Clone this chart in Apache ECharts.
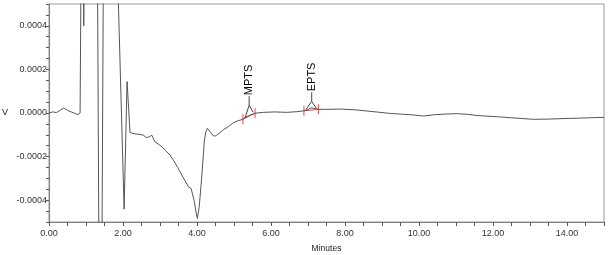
<!DOCTYPE html>
<html>
<head>
<meta charset="utf-8">
<script src="https://cdn.jsdelivr.net/npm/echarts@6/dist/echarts.min.js"></script>
<style>
  html, body { margin: 0; padding: 0; background: #fff; }
  #chart { width: 609px; height: 255px; }
</style>
</head>
<body>
<div id="chart"></div>
<script>
// 色谱数据（时间：分钟，信号：V）
var times = [
  0.00, 0.10, 0.20, 0.30, 0.40, 0.50, 0.60, 0.70, 0.78, 0.84,
  0.88, 0.93, 0.94, 0.95, 1.00, 1.30, 1.36, 1.42, 1.48, 1.86,
  2.03, 2.11, 2.19, 2.30, 2.46, 2.55, 2.59, 2.64, 2.72, 2.78,
  2.86, 2.95, 3.05, 3.15, 3.27, 3.36, 3.48, 3.59, 3.68, 3.77,
  3.84, 3.92, 3.97, 4.01, 4.06, 4.11, 4.16, 4.20, 4.24, 4.28,
  4.32, 4.37, 4.44, 4.50, 4.56, 4.62, 4.72, 4.85, 4.98, 5.10,
  5.24, 5.30, 5.40, 5.57, 5.80, 6.10, 6.42, 6.70, 6.89, 7.00,
  7.08, 7.18, 7.28, 7.59, 7.90, 8.32, 8.60, 8.95, 9.22, 9.50,
  9.85, 10.12, 10.40, 10.70, 11.02, 11.30, 11.60, 12.10, 12.50, 13.09,
  13.50, 14.00, 14.26, 14.60, 15.00
];
var volts = [
  0.000000, 0.000005, 0.000002, 0.000012, 0.000023, 0.000012, 0.000005, -0.000002, -0.000008, 0.000000,
  0.001000, 0.000800, 0.000400, 0.000800, 0.001000, 0.001000, -0.001000, -0.001000, 0.001000, 0.000600,
  -0.000441, 0.000144, -0.000090, -0.000095, -0.000098, -0.000102, -0.000098, -0.000113, -0.000108, -0.000102,
  -0.000132, -0.000142, -0.000155, -0.000172, -0.000193, -0.000216, -0.000250, -0.000285, -0.000312, -0.000339,
  -0.000346, -0.000400, -0.000450, -0.000484, -0.000430, -0.000330, -0.000220, -0.000124, -0.000085, -0.000070,
  -0.000076, -0.000090, -0.000105, -0.000105, -0.000098, -0.000090, -0.000076, -0.000062, -0.000045, -0.000036,
  -0.000029, -0.000020, -0.000012, -0.000001, 0.000003, 0.000005, 0.000003, 0.000006, 0.000010, 0.000015,
  0.000024, 0.000020, 0.000017, 0.000017, 0.000018, 0.000014, 0.000009, 0.000003, -0.000002, -0.000005,
  -0.000009, -0.000014, -0.000008, -0.000005, -0.000003, -0.000006, -0.000012, -0.000017, -0.000022, -0.000029,
  -0.000028, -0.000025, -0.000024, -0.000022, -0.000020
];

// 峰标注
var peakNames = ['MPTS', 'EPTS'];
var peakStart = [5.24, 6.89];
var peakEnd = [5.57, 7.28];
var peakApex = [5.41, 7.10];
var peakStartV = [-0.000029, 0.000010];
var peakEndV = [-0.000001, 0.000017];

var xMin = 0, xMax = 15, xStep = 0.5;
var yMin = -0.0005, yMax = 0.0005, yStep = 0.00005;

var chart = echarts.init(document.getElementById('chart'));

var seriesData = times.map(function(t, i) { return [t, volts[i]]; });
var peakData = peakNames.map(function(n, i) {
  return [peakStart[i], peakEnd[i], peakApex[i], peakStartV[i], peakEndV[i], n];
});

function renderPeak(params, api) {
  var s = api.coord([api.value(0), api.value(3)]);
  var e = api.coord([api.value(1), api.value(4)]);
  var ax = api.coord([api.value(2), 0])[0];
  var ay = Math.min(s[1], e[1]) - 8;
  var red = '#e8474a';
  var dark = '#444';
  return {
    type: 'group',
    children: [
      { type: 'line', shape: { x1: s[0], y1: s[1], x2: e[0], y2: e[1] }, style: { stroke: red, lineWidth: 1 } },
      { type: 'line', shape: { x1: s[0], y1: s[1] - 5, x2: s[0], y2: s[1] + 5 }, style: { stroke: red, lineWidth: 1 } },
      { type: 'line', shape: { x1: e[0], y1: e[1] - 5, x2: e[0], y2: e[1] + 5 }, style: { stroke: red, lineWidth: 1 } },
      { type: 'line', shape: { x1: ax, y1: ay, x2: s[0] + 2, y2: s[1] - 1 }, style: { stroke: dark, lineWidth: 1 } },
      { type: 'line', shape: { x1: ax, y1: ay, x2: e[0] - 2, y2: e[1] - 1 }, style: { stroke: dark, lineWidth: 1 } },
      { type: 'line', shape: { x1: ax, y1: ay, x2: ax, y2: ay - 9 }, style: { stroke: dark, lineWidth: 1 } },
      {
        type: 'text',
        x: ax, y: ay - 10,
        rotation: Math.PI / 2,
        style: {
          text: api.value(5),
          fill: '#000',
          font: '11px "Liberation Sans", Arial, sans-serif',
          align: 'left',
          verticalAlign: 'middle'
        }
      }
    ]
  };
}

var option = {
  animation: false,
  textStyle: { fontFamily: '"Liberation Sans", Arial, sans-serif' },
  grid: {
    left: 49, right: 5, top: 4, bottom: 33,
    containLabel: false,
    outerBoundsMode: 'none',
    show: true,
    borderColor: '#9a9a9a',
    borderWidth: 1
  },
  xAxis: {
    type: 'value',
    min: xMin, max: xMax, interval: xStep,
    name: 'Minutes',
    nameLocation: 'middle',
    nameGap: 22,
    nameTextStyle: { fontSize: 8.5, color: '#222' },
    axisLine: { onZero: false, lineStyle: { color: '#808080' } },
    axisTick: { show: true, length: 4, lineStyle: { color: '#555' } },
    splitLine: { show: false },
    axisLabel: {
      fontSize: 9, color: '#333', margin: 7,
      showMaxLabel: true,
      formatter: function(v) {
        var k = Math.round(v * 10);
        return (k % 20 === 0) ? (k / 10).toFixed(2) : '';
      }
    }
  },
  yAxis: {
    type: 'value',
    min: yMin, max: yMax, interval: yStep,
    name: 'V',
    nameLocation: 'middle',
    nameRotate: 0,
    nameGap: 41,
    nameTextStyle: { fontSize: 9, color: '#222' },
    axisLine: { show: true, onZero: false, lineStyle: { color: '#808080' } },
    axisTick: { show: true, length: 3, lineStyle: { color: '#555' } },
    splitLine: { show: false },
    axisLabel: {
      fontSize: 9, color: '#333', margin: 2,
      formatter: function(v) {
        var k = Math.round(v * 1e5);
        if (k % 20 !== 0) return '';
        var val = k / 1e5;
        if (k === 0) val = 0;
        return val.toFixed(4);
      }
    }
  },
  series: [
    {
      type: 'line',
      data: seriesData,
      showSymbol: false,
      clip: true,
      lineStyle: { color: '#555', width: 1 },
      silent: true
    },
    {
      type: 'custom',
      data: peakData,
      renderItem: renderPeak,
      clip: false,
      silent: true
    }
  ]
};

chart.setOption(option);
</script>
</body>
</html>
